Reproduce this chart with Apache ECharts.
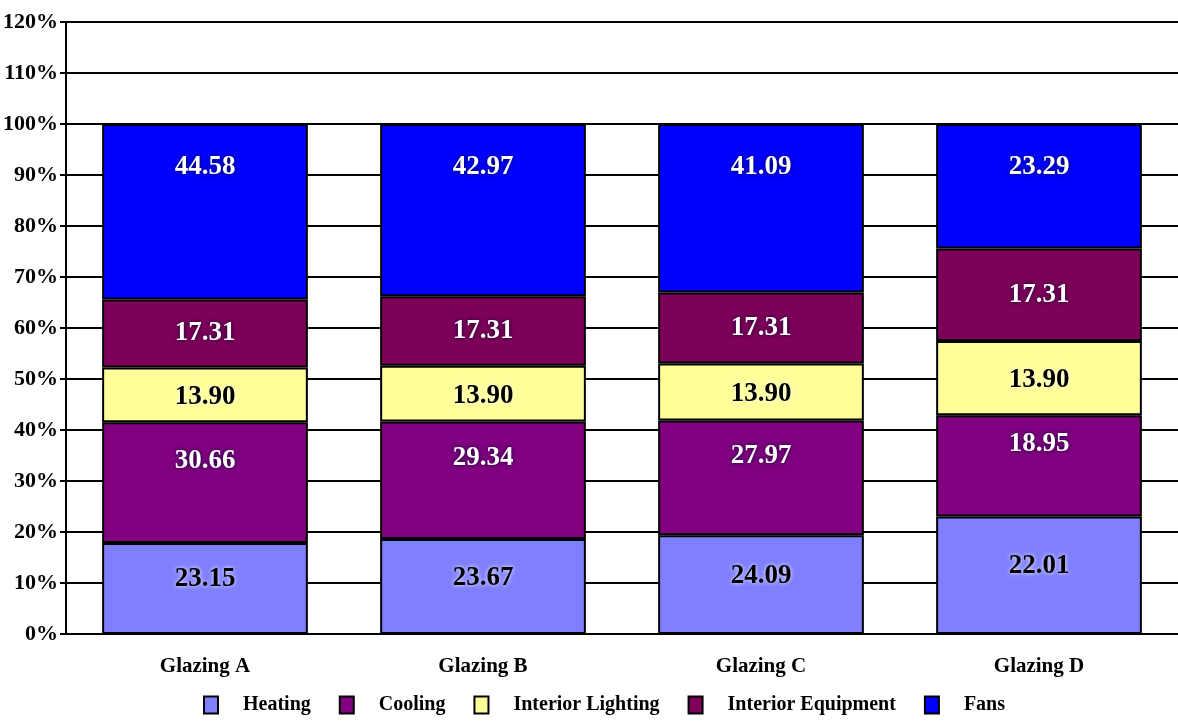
<!DOCTYPE html>
<html>
<head>
<meta charset="utf-8">
<script src="https://cdn.jsdelivr.net/npm/echarts@6/dist/echarts.min.js"></script>
<style>
  html, body { margin: 0; padding: 0; background: #fff; }
  #chart { width: 1178px; height: 726px; }
</style>
</head>
<body>
<div id="chart"></div>
<script>
// data (raw values shown on the segments)
const categories = ['Glazing A', 'Glazing B', 'Glazing C', 'Glazing D']
const heating = [23.15, 23.67, 24.09, 22.01]
const cooling = [30.66, 29.34, 27.97, 18.95]
const lighting = [13.90, 13.90, 13.90, 13.90]
const equipment = [17.31, 17.31, 17.31, 17.31]
const fans = [44.58, 42.97, 41.09, 23.29]
const yTicks = [0, 10, 20, 30, 40, 50, 60, 70, 80, 90, 100, 110, 120]

const FONT = "'Liberation Serif', 'Times New Roman', serif"

// totals per column, for the 100% stacking
const totals = categories.map((c, i) =>
  heating[i] + cooling[i] + lighting[i] + equipment[i] + fans[i])

function pct(arr) {
  return arr.map((v, i) => v / totals[i] * 100)
}

// one stacked series
function makeSeries(name, raw, color, labelColor, labelOpts) {
  return {
    name: name,
    type: 'bar',
    stack: 'total',
    barWidth: '74%',
    data: pct(raw),
    itemStyle: { color: color, borderColor: '#000', borderWidth: 2 },
    label: Object.assign({
      show: true,
      position: 'inside',
      color: labelColor,
      fontFamily: FONT,
      fontWeight: 'bold',
      fontSize: 27,
      textShadowColor: labelColor === '#fff' ? 'rgba(0,0,40,0.9)' : 'rgba(255,255,255,0.9)',
      textShadowBlur: 4,
      formatter: p => raw[p.dataIndex].toFixed(2)
    }, labelOpts || {})
  }
}

const chart = echarts.init(document.getElementById('chart'))

chart.setOption({
  animation: false,
  grid: { left: 65, right: 0, top: 22, bottom: 92 },
  legend: {
    left: 198,
    bottom: 6,
    itemWidth: 14,
    itemHeight: 17,
    itemGap: 28,
    icon: 'rect',
    itemStyle: { borderColor: '#000', borderWidth: 2 },
    textStyle: {
      fontFamily: FONT,
      fontWeight: 'bold',
      fontSize: 20,
      color: '#000',
      padding: [4, 0, 0, 20]
    },
    data: ['Heating', 'Cooling', 'Interior Lighting', 'Interior Equipment', 'Fans']
  },
  xAxis: {
    type: 'category',
    data: categories,
    axisLine: { lineStyle: { color: '#000', width: 2 } },
    axisTick: { alignWithLabel: true, length: 10, lineStyle: { color: '#000', width: 2 } },
    axisLabel: {
      margin: 22,
      color: '#000',
      fontFamily: FONT,
      fontWeight: 'bold',
      fontSize: 21
    }
  },
  yAxis: {
    type: 'value',
    min: yTicks[0],
    max: yTicks[yTicks.length - 1],
    interval: 10,
    axisLine: { show: true, lineStyle: { color: '#000', width: 2 } },
    axisTick: { show: true, length: 6, lineStyle: { color: '#000', width: 2 } },
    splitLine: { lineStyle: { color: '#000', width: 2 } },
    axisLabel: {
      margin: 8,
      color: '#000',
      fontFamily: FONT,
      fontWeight: 'bold',
      fontSize: 22,
      formatter: '{value}%'
    }
  },
  series: [
    makeSeries('Heating', heating, '#8080ff', '#000', { offset: [0, -9] }),
    makeSeries('Cooling', cooling, '#800080', '#fff', { offset: [0, -22] }),
    makeSeries('Interior Lighting', lighting, '#ffff99', '#000', { offset: [0, 2] }),
    makeSeries('Interior Equipment', equipment, '#7d0059', '#fff'),
    makeSeries('Fans', fans, '#0000ff', '#fff', { position: 'insideTop', distance: 30 })
  ]
})
</script>
</body>
</html>
